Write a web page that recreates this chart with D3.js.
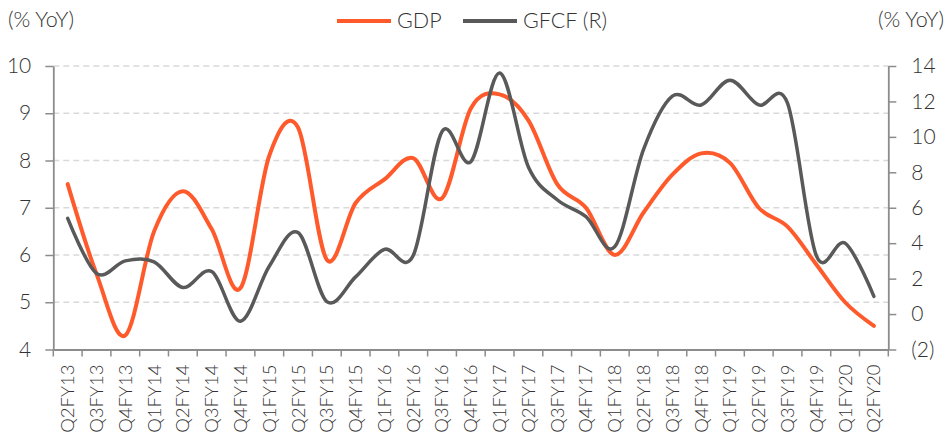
<!DOCTYPE html>
<html><head><meta charset="utf-8">
<script src="https://cdn.jsdelivr.net/npm/d3@7"></script>
<style>
html,body{margin:0;padding:0;background:#fff;}
svg text{font-family:Lato,"Noto Sans",sans-serif;font-weight:300;fill:#333;}
</style></head>
<body><svg id="c" width="951" height="444"></svg>
<script>
const categories = ["Q2FY13","Q3FY13","Q4FY13","Q1FY14","Q2FY14","Q3FY14","Q4FY14","Q1FY15","Q2FY15","Q3FY15","Q4FY15","Q1FY16","Q2FY16","Q3FY16","Q4FY16","Q1FY17","Q2FY17","Q3FY17","Q4FY17","Q1FY18","Q2FY18","Q3FY18","Q4FY18","Q1FY19","Q2FY19","Q3FY19","Q4FY19","Q1FY20","Q2FY20"];
const gdp = [7.5,5.6,4.3,6.5,7.35,6.55,5.3,8.1,8.7,5.9,7.1,7.6,8.05,7.2,9.1,9.4,8.85,7.5,7.0,6.0,6.9,7.7,8.15,7.95,7.0,6.6,5.8,5.0,4.5];
const gfcf = [5.4,2.3,3.0,2.95,1.5,2.4,-0.4,2.7,4.6,0.7,2.1,3.65,3.3,10.3,8.6,13.6,8.3,6.45,5.5,3.8,9.3,12.3,11.8,13.2,11.8,11.9,3.3,4.0,1.0];
const leftTicks = [4,5,6,7,8,9,10];
const rightTicks = [-2,0,2,4,6,8,10,12,14];
const rightTickLabels = ["(2)","0","2","4","6","8","10","12","14"];
const seriesNames = ["GDP","GFCF (R)"];
const axisTitle = "(% YoY)";

const svg = d3.select("#c");
const L = 53.3, R = 888.3, T = 66, B = 349.5;
const x = d3.scaleBand().domain(categories).range([L, R]);
const yL = d3.scaleLinear().domain([4, 10]).range([B, T]);
const yR = d3.scaleLinear().domain([-2, 14]).range([B, T]);

// gridlines
svg.append("g").selectAll("line").data(leftTicks.filter(d => d > 4)).join("line")
  .attr("x1", L).attr("x2", R).attr("y1", d => yL(d)).attr("y2", d => yL(d))
  .attr("stroke", "#d9d9d9").attr("stroke-width", 1.5).attr("stroke-dasharray", "6,4");

const axisColor = "#8c8c8c";
function styleAxis(g) {
  g.selectAll(".domain").attr("stroke", axisColor).attr("stroke-width", 1.8);
  g.selectAll(".tick line").attr("stroke", axisColor).attr("stroke-width", 1.5);
  g.selectAll("text").style("font-size", "21px");
}

// left axis
const gl = svg.append("g").attr("transform", `translate(${L},0)`)
  .call(d3.axisLeft(yL).tickValues(leftTicks).tickSize(8).tickSizeOuter(0).tickPadding(14).tickFormat(d3.format("d")));
styleAxis(gl);

// right axis
const gr = svg.append("g").attr("transform", `translate(${R},0)`)
  .call(d3.axisRight(yR).tickValues(rightTicks).tickSize(8).tickSizeOuter(0).tickPadding(15)
  .tickFormat((d, i) => rightTickLabels[i]));
styleAxis(gr);

// bottom axis
const gb = svg.append("g").attr("transform", `translate(0,${B})`)
  .call(d3.axisBottom(x).tickSize(0).tickSizeOuter(0));
gb.select(".domain").attr("stroke", axisColor).attr("stroke-width", 1.8);
gb.selectAll(".tick text").style("font-size", "18.5px")
  .attr("transform", "rotate(-90)").attr("text-anchor", "end")
  .attr("x", -15).attr("y", 0).attr("dy", "0.35em");
// boundary ticks
const bounds = categories.map(c => x(c)).concat([R]);
gb.append("g").selectAll("line").data(bounds).join("line")
  .attr("x1", d => d).attr("x2", d => d).attr("y1", 0).attr("y2", 7)
  .attr("stroke", axisColor).attr("stroke-width", 1.5);

// lines
const cx = d => x(d) + x.bandwidth() / 2;
const lineL = d3.line().x((d, i) => cx(categories[i])).y(d => yL(d)).curve(d3.curveCardinal.tension(0));
const lineR = d3.line().x((d, i) => cx(categories[i])).y(d => yR(d)).curve(d3.curveCardinal.tension(0));
svg.append("path").datum(gdp).attr("d", lineL).attr("fill", "none")
  .attr("stroke", "#ff5a2b").attr("stroke-width", 4).attr("stroke-linecap", "round").attr("stroke-linejoin", "round");
svg.append("path").datum(gfcf).attr("d", lineR).attr("fill", "none")
  .attr("stroke", "#595959").attr("stroke-width", 3.5).attr("stroke-linecap", "round").attr("stroke-linejoin", "round");

// axis titles
svg.append("text").attr("x", 8).attr("y", 27).style("font-size", "21.5px").text(axisTitle);
svg.append("text").attr("x", 944).attr("y", 27).attr("text-anchor", "end").style("font-size", "21.5px").text(axisTitle);

// legend
const leg = [{name: seriesNames[0], color: "#ff5a2b", x0: 337}, {name: seriesNames[1], color: "#595959", x0: 463}];
const lg = svg.append("g");
leg.forEach(l => {
  lg.append("line").attr("x1", l.x0).attr("x2", l.x0 + 54).attr("y1", 21).attr("y2", 21)
    .attr("stroke", l.color).attr("stroke-width", 4);
  lg.append("text").attr("x", l.x0 + 60).attr("y", 27.5).style("font-size", "21.5px").text(l.name);
});
</script></body></html>
